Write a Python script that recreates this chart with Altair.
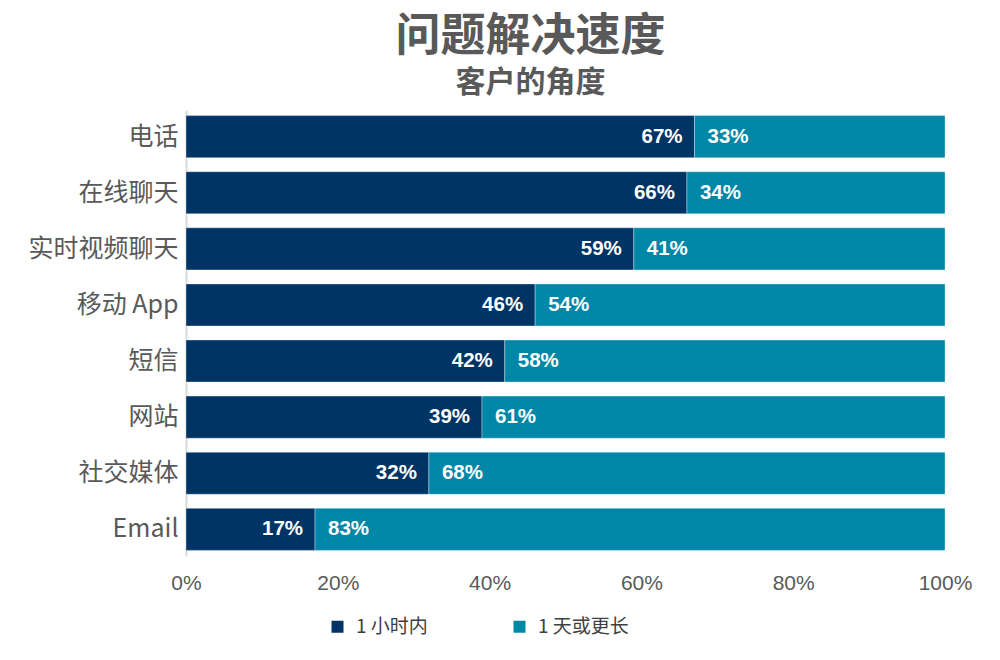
import altair as alt
import pandas as pd

channels = ["电话", "在线聊天", "实时视频聊天", "移动 App", "短信", "网站", "社交媒体", "Email"]
within_hour = [67, 66, 59, 46, 42, 39, 32, 17]
day_or_more = [33, 34, 41, 54, 58, 61, 68, 83]
series = ["1 小时内", "1 天或更长"]
colors = ["#003464", "#0086A6"]

rows = []
for c, a, b in zip(channels, within_hour, day_or_more):
    rows.append({"channel": c, "series": series[0], "order": 0, "value": a / 100})
    rows.append({"channel": c, "series": series[1], "order": 1, "value": b / 100})
df = pd.DataFrame(rows)

CJK = "Noto Sans CJK SC"
LAT = "Liberation Sans"

base = alt.Chart(df).transform_stack(
    stack="value", groupby=["channel"], as_=["x0", "x1"], sort=[alt.SortField("order")]
)

y_enc = alt.Y(
    "channel:N",
    sort=channels,
    title=None,
    scale=alt.Scale(paddingInner=0.25, paddingOuter=0.1),
    axis=alt.Axis(
        labelFont=CJK, labelFontSize=25, labelColor="#595959", labelPadding=8,
        ticks=False, domain=True, domainColor="#d9d9d9", domainWidth=2,
        labelLimit=300,
    ),
)

bars = base.mark_bar(stroke="#ffffff", strokeWidth=1, strokeOpacity=0.35).encode(
    x=alt.X(
        "x0:Q",
        scale=alt.Scale(domain=[0, 1], nice=False),
        title=None,
        axis=alt.Axis(
            format=".0%", values=[0, 0.2, 0.4, 0.6, 0.8, 1.0], grid=False, ticks=False,
            domain=False, labelFont=LAT, labelFontSize=21, labelColor="#595959",
            labelPadding=16, labelFlush=False, labelAlign="center",
        ),
    ),
    x2="x1:Q",
    y=y_enc,
    color=alt.Color(
        "series:N",
        scale=alt.Scale(domain=series, range=colors),
        legend=alt.Legend(
            title=None, orient="none", legendX=142, legendY=507, direction="horizontal",
            symbolType="square", symbolSize=144, symbolStrokeWidth=0,
            labelFont=CJK, labelFontSize=19, labelColor="#404040", labelOffset=9,
            columnPadding=82, labelLimit=300,
        ),
    ),
)

lab1 = base.transform_filter(alt.datum.order == 0).mark_text(
    align="right", baseline="middle", dx=-12, font=LAT, fontSize=20.5, fontWeight="bold", color="white"
).encode(
    x="x1:Q",
    y=alt.Y("channel:N", sort=channels),
    text=alt.Text("value:Q", format=".0%"),
)

lab2 = base.transform_filter(alt.datum.order == 1).mark_text(
    align="left", baseline="middle", dx=13, font=LAT, fontSize=20.5, fontWeight="bold", color="white"
).encode(
    x="x0:Q",
    y=alt.Y("channel:N", sort=channels),
    text=alt.Text("value:Q", format=".0%"),
)

chart = alt.layer(bars, lab1, lab2).properties(
    width=759,
    height=446,
    autosize=alt.AutoSizeParams(type="none"),
    padding={"left": 178, "top": 102, "right": 47, "bottom": 96},
    title=alt.TitleParams(
        text="问题解决速度",
        subtitle="客户的角度",
        anchor="middle",
        dx=-35,
        font=CJK,
        fontSize=45,
        fontWeight="bold",
        color="#595959",
        subtitleFont=CJK,
        subtitleFontSize=30,
        subtitleFontWeight="bold",
        subtitleColor="#595959",
        subtitlePadding=8,
        offset=12,
    ),
).configure_view(stroke=None)

chart.save("out.html", embed_options={"renderer": "svg", "actions": False})
